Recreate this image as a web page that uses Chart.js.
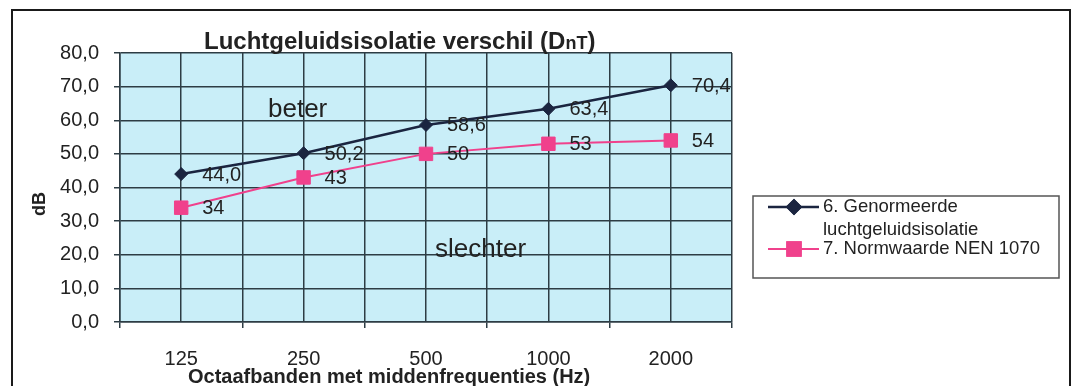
<!DOCTYPE html>
<html lang="nl">
<head>
<meta charset="utf-8">
<title>Luchtgeluidsisolatie verschil (DnT)</title>
<script src="https://cdn.jsdelivr.net/npm/chart.js@4/dist/chart.umd.min.js"></script>
<style>
  html, body { margin: 0; padding: 0; background: #ffffff; }
  #wrap { width: 1075px; height: 386px; position: relative; }
</style>
</head>
<body>
<div id="wrap"><canvas id="chart" width="1075" height="386"></canvas></div>
<script>
// Octave band centre frequencies (Hz)
const frequencies = ['125', '250', '500', '1000', '2000'];
// 6. Normalised airborne sound insulation (dB)
const measured = [44.0, 50.2, 58.6, 63.4, 70.4];
// 7. Requirement value NEN 1070 (dB)
const normValue = [34, 43, 50, 53, 54];
// Y axis range and step (dB)
const yMin = 0, yMax = 80, yStep = 10;

const seriesLabels = [['6. Genormeerde', 'luchtgeluidsisolatie'], '7. Normwaarde NEN 1070'];
const labelDecimals = [1, 0];

const FONT = '"Liberation Sans", Arial, Helvetica, sans-serif';
const TEXT = '#222222';
const GRID = '#2d3c44';
const NAVY = '#1b2540';
const PINK = '#f0418c';
const PLOT_BG = '#c9eef8';

const fmt = (v, d) => v.toFixed(d).replace('.', ',');

// Plot background, outer frame, titles and region notes
const decorPlugin = {
  id: 'decor',
  beforeDraw(chart) {
    const { ctx, chartArea: a } = chart;
    ctx.save();
    ctx.fillStyle = '#ffffff';
    ctx.fillRect(0, 0, chart.width, chart.height);
    ctx.fillStyle = PLOT_BG;
    ctx.fillRect(a.left, a.top, a.right - a.left, a.bottom - a.top);
    ctx.strokeStyle = '#1a1a1a';
    ctx.lineWidth = 2;
    ctx.strokeRect(12, 10, 1058, 420);
    ctx.restore();
  },
  afterDraw(chart) {
    const { ctx } = chart;
    ctx.save();
    ctx.fillStyle = TEXT;
    ctx.textBaseline = 'alphabetic';
    ctx.textAlign = 'left';
    // Chart title with DnT
    let x = 204;
    const y = 49;
    ctx.font = 'bold 24px ' + FONT;
    const t1 = 'Luchtgeluidsisolatie verschil (D';
    ctx.fillText(t1, x, y);
    x += ctx.measureText(t1).width;
    ctx.font = 'bold 18px ' + FONT;
    ctx.fillText('nT', x, y);
    x += ctx.measureText('nT').width;
    ctx.font = 'bold 24px ' + FONT;
    ctx.fillText(')', x, y);

    // X axis title
    ctx.font = 'bold 20px ' + FONT;
    ctx.fillText('Octaafbanden met middenfrequenties (Hz)', 188, 383);

    // Y axis title
    ctx.save();
    ctx.translate(45, 204);
    ctx.rotate(-Math.PI / 2);
    ctx.textAlign = 'center';
    ctx.font = 'bold 18px ' + FONT;
    ctx.fillText('dB', 0, 0);
    ctx.restore();

    // Region notes
    ctx.font = '26px ' + FONT;
    ctx.textAlign = 'left';
    ctx.fillText('beter', 268, 117);
    ctx.fillText('slechter', 435, 257);
    ctx.restore();
  }
};

// Value labels to the right of each point
const valueLabelPlugin = {
  id: 'valueLabels',
  afterDatasetsDraw(chart) {
    const { ctx } = chart;
    ctx.save();
    ctx.font = '20px ' + FONT;
    ctx.fillStyle = TEXT;
    ctx.textAlign = 'left';
    ctx.textBaseline = 'middle';
    chart.data.datasets.forEach((ds, i) => {
      const meta = chart.getDatasetMeta(i);
      meta.data.forEach((pt, j) => {
        ctx.fillText(fmt(ds.data[j], labelDecimals[i]), pt.x + 21, pt.y + 1);
      });
    });
    ctx.restore();
  }
};

// Boxed legend on the right
const legendBoxPlugin = {
  id: 'legendBox',
  afterDraw(chart) {
    const { ctx } = chart;
    const box = { x: 753, y: 196, w: 306, h: 82 };
    ctx.save();
    ctx.strokeStyle = '#555555';
    ctx.lineWidth = 1.5;
    ctx.strokeRect(box.x, box.y, box.w, box.h);
    const rows = [207, 249];
    ctx.font = '18.5px ' + FONT;
    ctx.fillStyle = TEXT;
    ctx.textAlign = 'left';
    ctx.textBaseline = 'middle';
    chart.data.datasets.forEach((ds, i) => {
      const yy = rows[i];
      ctx.strokeStyle = ds.borderColor;
      ctx.lineWidth = ds.borderWidth;
      ctx.beginPath();
      ctx.moveTo(768, yy);
      ctx.lineTo(819, yy);
      ctx.stroke();
      Chart.helpers.drawPoint(ctx, {
        pointStyle: ds.pointStyle,
        radius: ds.pointRadius,
        borderWidth: 1,
        rotation: 0
      }, 794, yy);
      ctx.fillStyle = ds.backgroundColor;
      ctx.strokeStyle = ds.borderColor;
      ctx.fill();
      ctx.stroke();
      ctx.fillStyle = TEXT;
      const lines = Array.isArray(ds.label) ? ds.label : [ds.label];
      lines.forEach((ln, k) => ctx.fillText(ln, 823, yy + k * 23));
    });
    ctx.restore();
  }
};

new Chart(document.getElementById('chart'), {
  type: 'line',
  data: {
    labels: frequencies,
    datasets: [
      {
        label: seriesLabels[0],
        data: measured,
        borderColor: NAVY,
        backgroundColor: NAVY,
        borderWidth: 2.5,
        pointStyle: 'rectRot',
        pointRadius: 6.5,
        pointBorderWidth: 1,
        tension: 0,
        xAxisID: 'x'
      },
      {
        label: seriesLabels[1],
        data: normValue,
        borderColor: PINK,
        backgroundColor: PINK,
        borderWidth: 2,
        pointStyle: 'rect',
        pointRadius: 9.5,
        pointBorderWidth: 1,
        tension: 0,
        xAxisID: 'x'
      }
    ]
  },
  options: {
    responsive: false,
    animation: false,
    devicePixelRatio: 1,
    layout: { padding: { top: 53, right: 343, left: 0, bottom: 0 } },
    plugins: {
      legend: { display: false },
      title: { display: false },
      tooltip: { enabled: false }
    },
    scales: {
      x: {
        type: 'category',
        position: 'bottom',
        offset: true,
        grid: {
          offset: true,
          color: (c) => (c.index === frequencies.length ? 'rgba(0,0,0,0)' : GRID),
          tickColor: GRID,
          lineWidth: 1.5,
          tickLength: 6
        },
        border: { display: true, color: GRID, width: 1.5 },
        ticks: { font: { family: FONT, size: 20 }, color: TEXT, padding: 19 },
        afterFit: (s) => { s.height = 64; }
      },
      x2: {
        type: 'category',
        position: 'bottom',
        labels: frequencies,
        offset: true,
        grid: { offset: false, color: GRID, lineWidth: 1.5, drawTicks: false },
        border: { display: false },
        ticks: { display: false },
        afterFit: (s) => { s.height = 0; }
      },
      y: {
        min: yMin,
        max: yMax,
        ticks: {
          stepSize: yStep,
          font: { family: FONT, size: 20 },
          color: TEXT,
          padding: 15,
          callback: (v) => fmt(v, 1)
        },
        grid: { color: GRID, lineWidth: 1.5, tickLength: 6 },
        border: { display: true, color: GRID, width: 1.5 },
        afterFit: (s) => { s.width = 120; }
      }
    }
  },
  plugins: [decorPlugin, valueLabelPlugin, legendBoxPlugin]
});
</script>
</body>
</html>
